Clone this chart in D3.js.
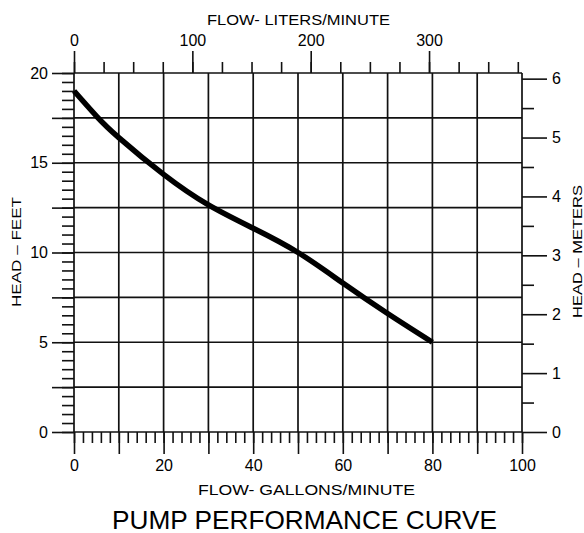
<!DOCTYPE html>
<html>
<head>
<meta charset="utf-8">
<script src="https://cdn.jsdelivr.net/npm/d3@7"></script>
<style>
  body { margin: 0; background: #fff; }
  text { font-family: "Liberation Sans", Arial, sans-serif; fill: #000; }
</style>
</head>
<body>
<div id="chart"></div>
<script>
// pump curve (flow in gpm, head in feet)
var flow_gpm = [0, 5, 10, 20, 30, 40, 50, 60, 70, 80]
var head_ft = [19.0, 17.6, 16.4, 14.35, 12.65, 11.35, 10.0, 8.3, 6.6, 5.0]

var gpm_labels = [0, 20, 40, 60, 80, 100]
var lpm_labels = [0, 100, 200, 300]
var ft_labels = [0, 5, 10, 15, 20]
var m_labels = [0, 1, 2, 3, 4, 5, 6]

var L_PER_GAL = 3.78541
var M_PER_FT = 0.3048

// note: "top" is taken by window.top, so keep these in an object
var plot = { left: 74, right: 522, top: 73, bottom: 432 }

var svg = d3.select("#chart").append("svg")
    .attr("width", 584)
    .attr("height", 533)

var x = d3.scaleLinear().domain([0, 100]).range([plot.left, plot.right])
var xL = d3.scaleLinear().domain([0, 100 * L_PER_GAL]).range([plot.left, plot.right])
var y = d3.scaleLinear().domain([0, 20]).range([plot.bottom, plot.top])
var yM = d3.scaleLinear().domain([0, 20 * M_PER_FT]).range([plot.bottom, plot.top])

// grid
var grid = svg.append("g").attr("stroke", "#111").attr("stroke-width", 1.7)
grid.selectAll(".vgrid").data(d3.range(0, 101, 10))
    .enter().append("line")
    .attr("x1", function(d) { return x(d) }).attr("x2", function(d) { return x(d) })
    .attr("y1", plot.top).attr("y2", plot.bottom)
grid.selectAll(".hgrid").data(d3.range(0, 20.01, 2.5))
    .enter().append("line")
    .attr("x1", plot.left).attr("x2", plot.right)
    .attr("y1", function(d) { return y(d) }).attr("y2", function(d) { return y(d) })

function style_axis(g) {
    g.select(".domain").remove()
    g.selectAll(".tick line").attr("stroke", "#111").attr("stroke-width", 1.6)
    g.selectAll(".tick text").style("font-size", "16px").attr("fill", "#000")
}

// bottom: gallons/minute
svg.append("g").attr("transform", "translate(0," + plot.bottom + ")")
    .call(d3.axisBottom(x).tickValues(d3.range(0, 101, 2)).tickSize(11).tickFormat(""))
    .call(style_axis)
svg.append("g").attr("transform", "translate(0," + plot.bottom + ")")
    .call(d3.axisBottom(x).tickValues(d3.range(0, 101, 10)).tickSize(22).tickPadding(6)
        .tickFormat(function(d) { return gpm_labels.indexOf(d) >= 0 ? d : "" }))
    .call(style_axis)

// top: liters/minute
svg.append("g").attr("transform", "translate(0," + plot.top + ")")
    .call(d3.axisTop(xL).tickValues(d3.range(0, 376, 25)).tickSize(11).tickFormat(""))
    .call(style_axis)
svg.append("g").attr("transform", "translate(0," + plot.top + ")")
    .call(d3.axisTop(xL).tickValues(lpm_labels).tickSize(22).tickPadding(5).tickFormat(d3.format("d")))
    .call(style_axis)

// left: feet
svg.append("g").attr("transform", "translate(" + plot.left + ",0)")
    .call(d3.axisLeft(y).tickValues(d3.range(0, 20.01, 0.5)).tickSize(12).tickFormat(""))
    .call(style_axis)
svg.append("g").attr("transform", "translate(" + plot.left + ",0)")
    .call(d3.axisLeft(y).tickValues(d3.range(0, 20.01, 2.5)).tickSize(22).tickPadding(4)
        .tickFormat(function(d) { return ft_labels.indexOf(d) >= 0 ? d : "" }))
    .call(style_axis)

// right: meters
svg.append("g").attr("transform", "translate(" + plot.right + ",0)")
    .call(d3.axisRight(yM).tickValues(d3.range(0.5, 6, 1)).tickSize(12).tickFormat(""))
    .call(style_axis)
svg.append("g").attr("transform", "translate(" + plot.right + ",0)")
    .call(d3.axisRight(yM).tickValues(m_labels).tickSize(25).tickPadding(5).tickFormat(d3.format("d")))
    .call(style_axis)

// the curve
var line = d3.line()
    .x(function(d) { return x(d[0]) })
    .y(function(d) { return y(d[1]) })
    .curve(d3.curveNatural)

svg.append("path")
    .datum(d3.zip(flow_gpm, head_ft))
    .attr("d", line)
    .attr("fill", "none")
    .attr("stroke", "#000")
    .attr("stroke-width", 5.5)

// titles
svg.append("text").attr("x", 207).attr("y", 25)
    .attr("textLength", 183).attr("lengthAdjust", "spacingAndGlyphs")
    .style("font-size", "15px")
    .text("FLOW-  LITERS/MINUTE")

svg.append("text").attr("x", 198).attr("y", 495)
    .attr("textLength", 217).attr("lengthAdjust", "spacingAndGlyphs")
    .style("font-size", "15px")
    .text("FLOW-  GALLONS/MINUTE")

svg.append("text").attr("x", 112).attr("y", 529)
    .attr("textLength", 385).attr("lengthAdjust", "spacingAndGlyphs")
    .style("font-size", "25px")
    .text("PUMP  PERFORMANCE  CURVE")

svg.append("text")
    .attr("transform", "translate(21,307) rotate(-90)")
    .attr("textLength", 110).attr("lengthAdjust", "spacingAndGlyphs")
    .style("font-size", "12px")
    .text("HEAD  –  FEET")

svg.append("text")
    .attr("transform", "translate(582,318) rotate(-90)")
    .attr("textLength", 133).attr("lengthAdjust", "spacingAndGlyphs")
    .style("font-size", "12.5px")
    .text("HEAD  –  METERS")
</script>
</body>
</html>
